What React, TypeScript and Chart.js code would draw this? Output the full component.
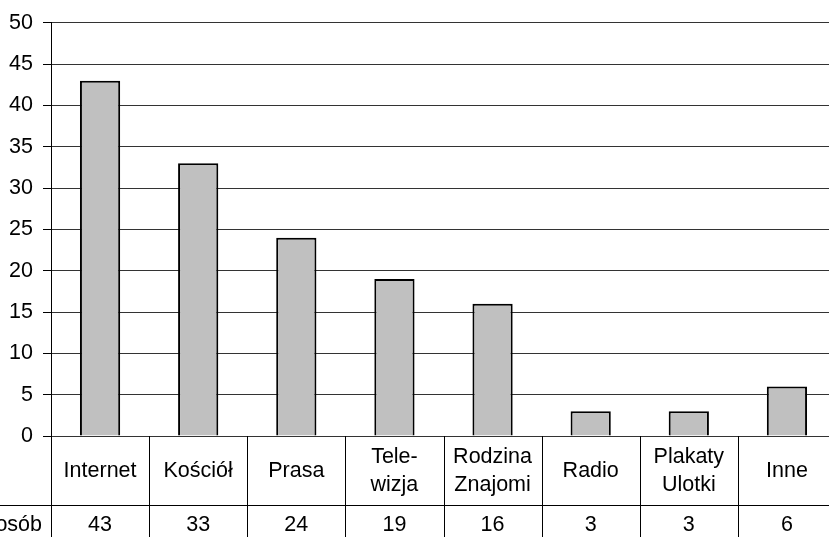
import React, { useEffect, useRef } from "react";
import { Chart, registerables } from "chart.js";

Chart.register(...registerables);

const categories: string[][] = [
  ["Internet"],
  ["Kościół"],
  ["Prasa"],
  ["Tele-", "wizja"],
  ["Rodzina", "Znajomi"],
  ["Radio"],
  ["Plakaty", "Ulotki"],
  ["Inne"],
];
const values: number[] = [43, 33, 24, 19, 16, 3, 3, 6];
const seriesName = "Liczba osób";
const yTicks = { min: 0, max: 50, step: 5 };

const FONT = '21.5px "Liberation Sans", Arial, sans-serif';

const tablePlugin = {
  id: "dataTable",
  afterDraw(chart: any) {
    const ctx = chart.ctx as CanvasRenderingContext2D;
    const area = chart.chartArea;
    const n = categories.length;
    const w = (area.right - area.left) / n;
    const top = area.bottom;
    const rowSep = top + 69;
    const bottom = chart.height;
    ctx.save();
    ctx.strokeStyle = "#000";
    ctx.lineWidth = 1;
    ctx.beginPath();
    for (let i = 0; i <= n; i++) {
      const x = Math.round(area.left + i * w) + 0.5;
      ctx.moveTo(x, top);
      ctx.lineTo(x, bottom);
    }
    ctx.moveTo(0, rowSep + 0.5);
    ctx.lineTo(area.right, rowSep + 0.5);
    ctx.stroke();

    ctx.fillStyle = "#000";
    ctx.font = FONT;
    ctx.textAlign = "center";
    ctx.textBaseline = "middle";
    const labels = chart.data.labels as string[][];
    const ds = chart.data.datasets[0].data as number[];
    const rowMid = (top + rowSep) / 2 + 0.5;
    const lh = 28;
    for (let i = 0; i < n; i++) {
      const cx = area.left + (i + 0.5) * w;
      const lines = labels[i];
      const y0 = rowMid - ((lines.length - 1) * lh) / 2;
      lines.forEach((t, k) => ctx.fillText(t, cx, y0 + k * lh));
      ctx.fillText(String(ds[i]), cx, rowSep + 20.5);
    }
    ctx.textAlign = "right";
    ctx.fillText(chart.data.datasets[0].label, 42, rowSep + 20.5);
    ctx.restore();
  },
};

export default function App() {
  const ref = useRef<HTMLCanvasElement | null>(null);
  useEffect(() => {
    if (!ref.current) return;
    const chart = new Chart(ref.current, {
      type: "bar",
      data: {
        labels: categories,
        datasets: [
          {
            label: seriesName,
            data: values,
            backgroundColor: "#C0C0C0",
            borderColor: "#000",
            borderWidth: 2,
            barPercentage: 0.41,
            categoryPercentage: 1,
          },
        ],
      },
      options: {
        animation: false,
        responsive: false,
        maintainAspectRatio: false,
        devicePixelRatio: 1,
        layout: { padding: { top: 21, bottom: 101, left: 0, right: 0 } },
        plugins: {
          legend: { display: false },
          tooltip: { enabled: false },
          title: { display: false },
        },
        scales: {
          x: { display: false },
          y: {
            min: yTicks.min,
            max: yTicks.max,
            afterFit: (s: any) => {
              s.width = 51;
            },
            ticks: {
              stepSize: yTicks.step,
              padding: 10,
              color: "#000",
              font: { family: '"Liberation Sans", Arial, sans-serif', size: 21.5 },
            },
            grid: {
              color: "#333",
              lineWidth: 1,
              drawTicks: true,
              tickLength: 8,
              tickColor: "#000",
            },
            border: { display: true, color: "#000", width: 1 },
          },
        },
      },
      plugins: [tablePlugin],
    });
    return () => chart.destroy();
  }, []);
  return (
    <div
      style={{
        position: "fixed",
        left: 0,
        top: 0,
        width: 829,
        height: 537,
        overflow: "hidden",
        background: "#fff",
      }}
    >
      <canvas ref={ref} width={836} height={537} style={{ width: 836, height: 537, display: "block" }} />
    </div>
  );
}
